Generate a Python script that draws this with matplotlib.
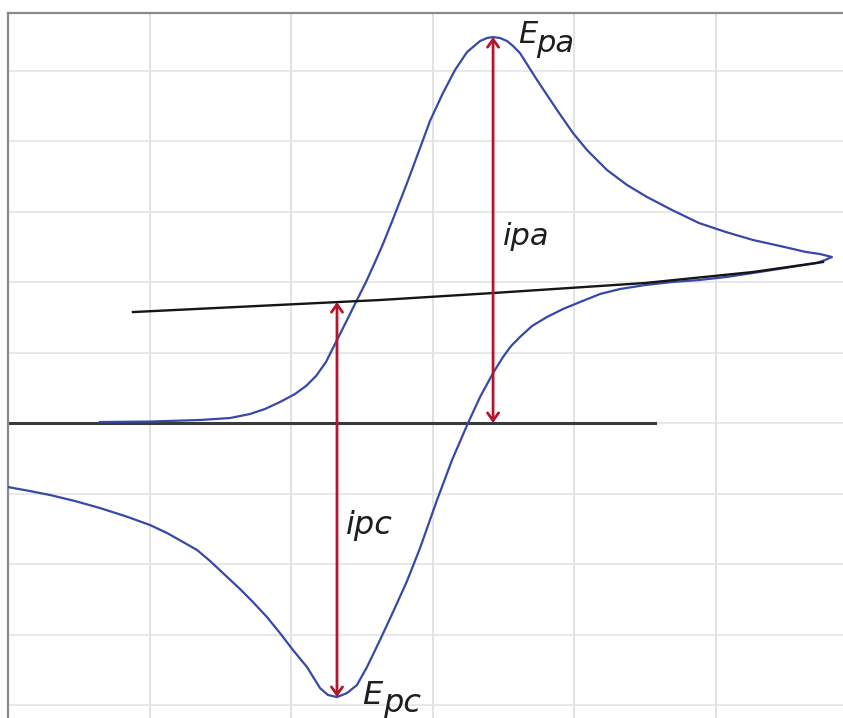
import matplotlib.pyplot as plt

# cyclic voltammogram (grid units: 1 x-division, 1 y-division)
fwd_E = [0.650, 1.004, 1.357, 1.569, 1.710, 1.816, 1.922, 2.028, 2.106, 2.177,
         2.247, 2.325, 2.396, 2.466, 2.530, 2.594, 2.650, 2.721, 2.820, 2.912,
         2.982, 3.074, 3.159, 3.244, 3.336, 3.385, 3.428, 3.477, 3.527, 3.569,
         3.618, 3.739, 3.880, 3.993, 4.092, 4.233, 4.375, 4.516, 4.693, 4.883,
         5.074, 5.265, 5.456, 5.640, 5.739, 5.823]
fwd_i = [0.014, 0.021, 0.043, 0.071, 0.128, 0.199, 0.298, 0.411, 0.525, 0.667,
         0.865, 1.177, 1.461, 1.745, 2.000, 2.284, 2.539, 2.894, 3.404, 3.901,
         4.284, 4.681, 5.007, 5.262, 5.418, 5.461, 5.475, 5.461, 5.418, 5.348,
         5.248, 4.865, 4.440, 4.113, 3.872, 3.589, 3.376, 3.206, 3.021, 2.837,
         2.709, 2.596, 2.511, 2.426, 2.397, 2.355]

rev_E = [5.774, 5.717, 5.491, 5.265, 5.074, 4.883, 4.693, 4.502, 4.325, 4.184,
         4.042, 3.922, 3.809, 3.703, 3.618, 3.555, 3.498, 3.428, 3.336, 3.251,
         3.138, 3.032, 2.912, 2.820, 2.721, 2.629, 2.537, 2.466, 2.396, 2.325,
         2.261, 2.205, 2.113, 2.014, 1.922, 1.830, 1.731, 1.640, 1.534, 1.428,
         1.336, 1.237, 1.124, 1.004, 0.827, 0.650, 0.473, 0.297, 0.155, 0.000]
rev_i = [2.312, 2.270, 2.199, 2.128, 2.071, 2.028, 2.000, 1.957, 1.901, 1.830,
         1.716, 1.617, 1.504, 1.376, 1.220, 1.092, 0.936, 0.709, 0.369, 0.000,
         -0.525, -1.092, -1.773, -2.241, -2.681, -3.078, -3.461, -3.716, -3.830, -3.887,
         -3.858, -3.759, -3.461, -3.220, -2.979, -2.752, -2.539, -2.355, -2.156, -1.957,
         -1.801, -1.688, -1.560, -1.447, -1.319, -1.206, -1.106, -1.021, -0.965, -0.908]

# extrapolated baselines
base_E = [0.883, 2.629, 3.428, 4.502, 5.265, 5.760]
base_i = [1.574, 1.745, 1.844, 1.986, 2.142, 2.284]
zero_E = [0.0, 4.573]
zero_i = [0.0, 0.0]

# peak positions and the baseline under each peak
Epa, ipa_top, ipa_base = 3.428, 5.475, 0.0
Epc, ipc_bot, ipc_base = 2.325, -3.887, 1.716

fig = plt.figure(figsize=(8.43, 7.18), dpi=100)
ax = fig.add_axes([8 / 843, 0, 835 / 843, 705 / 718])
ax.set_xlim(0, 5.901)
ax.set_ylim(-4.184, 5.816)

for gx in range(1, 6):
    ax.axvline(gx, color='#dddddd', lw=1.2, zorder=0)
for gy in range(-4, 6):
    ax.axhline(gy, color='#e4e4e4', lw=1.2, zorder=0)

ax.plot(zero_E, zero_i, color='#3a3a3a', lw=2.2, zorder=2)
ax.plot(fwd_E + rev_E, fwd_i + rev_i, color='#3848a8', lw=1.6,
        solid_joinstyle='round', zorder=3)
ax.plot(base_E, base_i, color='#151515', lw=1.7, zorder=4)

arrow = dict(arrowstyle='<->,head_length=0.28,head_width=0.2', color='#b3162c',
             lw=2.0, mutation_scale=20, shrinkA=0, shrinkB=0)
ax.annotate('', xy=(Epa, ipa_top), xytext=(Epa, ipa_base), arrowprops=arrow, zorder=5)
ax.annotate('', xy=(Epc, ipc_bot), xytext=(Epc, ipc_base), arrowprops=arrow, zorder=5)

txt = dict(color='#1e1e1e', style='italic', va='baseline', ha='left')
ax.text(3.604, 5.390, 'E', fontsize=22, **txt)
ax.text(3.731, 5.262, 'pa', fontsize=22, **txt)
ax.text(3.498, 2.525, 'ipa', fontsize=22, **txt)
ax.text(2.389, -1.574, 'ipc', fontsize=23, **txt)
ax.text(2.502, -3.990, 'E', fontsize=23, **txt)
ax.text(2.650, -4.100, 'pc', fontsize=23, **txt)

ax.set_xticks([])
ax.set_yticks([])
for side in ['right', 'bottom']:
    ax.spines[side].set_visible(False)
for side in ['left', 'top']:
    ax.spines[side].set_color('#8a8a8a')
    ax.spines[side].set_linewidth(1.6)

fig.savefig('out.png', dpi=100)
